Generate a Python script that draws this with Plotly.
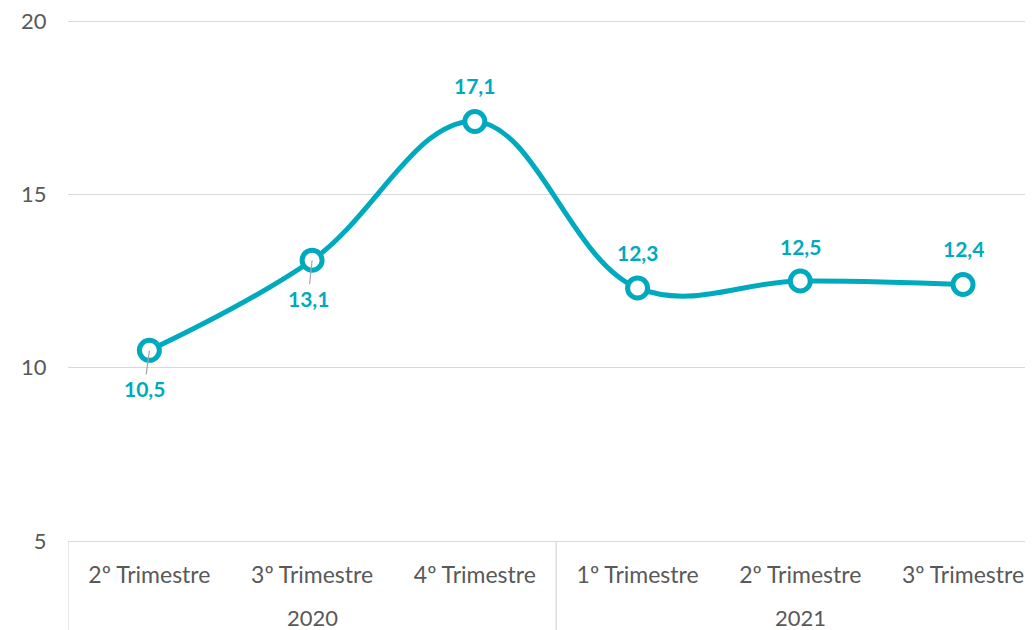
import plotly.graph_objects as go

quarters = ["2º Trimestre", "3º Trimestre", "4º Trimestre", "1º Trimestre", "2º Trimestre", "3º Trimestre"]
years = ["2020", "2021"]
year_groups = [[0, 1, 2], [3, 4, 5]]
values = [10.5, 13.1, 17.1, 12.3, 12.5, 12.4]
value_labels = ["10,5", "13,1", "17,1", "12,3", "12,5", "12,4"]
y_ticks = [5, 10, 15, 20]

teal = "#00AABE"
grey_text = "#595959"
grid = "#D9D9D9"
font_family = "Lato, 'Open Sans', sans-serif"

x = list(range(len(values)))

fig = go.Figure()
fig.add_trace(go.Scatter(
    x=x, y=values, mode="lines+markers",
    line=dict(color=teal, width=5, shape="spline", smoothing=1.1),
    marker=dict(size=20, color="white", line=dict(color=teal, width=5)),
    hoverinfo="skip", showlegend=False,
))

# data labels
offsets = [(-5, 38, True), (-4, 38, True), (0, -36, False), (0, -35, False), (0, -35, False), (0, -36, False)]
for xi, v, lab, (ax, ay, arrow) in zip(x, values, value_labels, offsets):
    fig.add_annotation(
        x=xi, y=v, xref="x", yref="y", text=f"<b>{lab}</b>",
        showarrow=True, ax=ax, ay=ay, axref="pixel", ayref="pixel",
        arrowhead=0, arrowwidth=1.2,
        arrowcolor="#A6A6A6" if arrow else "rgba(0,0,0,0)",
        standoff=0, startstandoff=0,
        font=dict(family=font_family, size=21, color=teal),
    )

# year labels
plot_h = 530.0
for yr, grp in zip(years, year_groups):
    fig.add_annotation(
        x=sum(grp) / len(grp), y=-76 / plot_h, xref="x", yref="paper",
        text=yr, showarrow=False, yanchor="middle",
        font=dict(family=font_family, size=22, color=grey_text),
    )

# group dividers
for xb in [-0.5, 2.5, 5.5]:
    fig.add_shape(type="line", x0=xb, x1=xb, y0=0, y1=-0.2, xref="x", yref="paper",
                  line=dict(color=grid, width=1.3))

fig.update_layout(
    width=1025, height=622,
    margin=dict(l=60, r=0, t=3, b=89),
    paper_bgcolor="white", plot_bgcolor="white",
    font=dict(family=font_family, color=grey_text, size=22),
)
fig.update_xaxes(
    range=[-0.5, 5.43], tickvals=x, ticktext=quarters,
    showgrid=False, zeroline=False,
    showline=True, linecolor=grid, linewidth=1.3,
    ticks="outside", ticklen=13, tickcolor="rgba(0,0,0,0)",
    tickfont=dict(size=23, color=grey_text, family=font_family),
)
fig.update_yaxes(
    range=[5, 20 + 10 / (520 / 15)], tickvals=y_ticks, ticktext=[str(t) for t in y_ticks],
    showgrid=True, gridcolor=grid, gridwidth=1.3, zeroline=False,
    showline=False, ticklabeloverflow="allow",
    ticks="outside", ticklen=16, tickcolor="rgba(0,0,0,0)",
    tickfont=dict(size=22, color=grey_text, family=font_family),
)

fig.write_html("out.html")
